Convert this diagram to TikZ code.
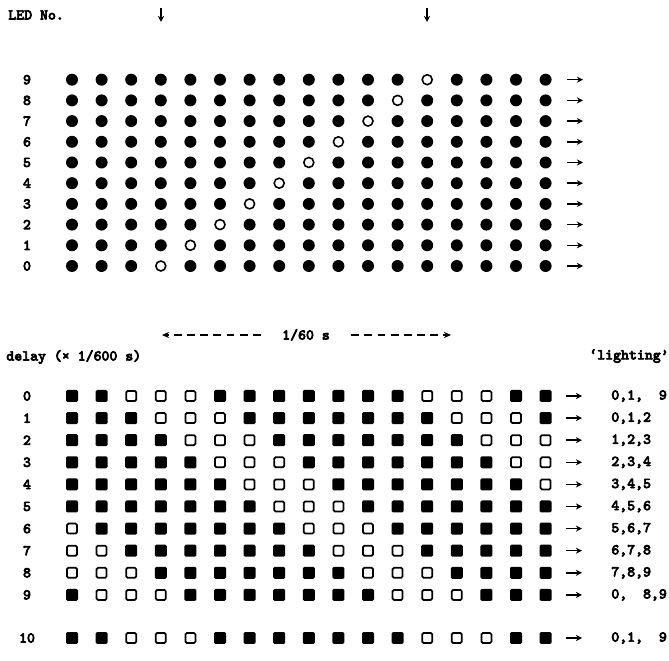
\documentclass[tikz,border=0pt]{standalone}
\usepackage{fontspec}
\setmonofont{Latin Modern Mono}[AutoFakeBold=4.5]
\usetikzlibrary{arrows.meta}

\begin{document}
\begin{tikzpicture}[
  x=0.02cm, y=-0.02cm,
  lbl/.style={font=\fontsize{8.5}{10}\selectfont\ttfamily\bfseries, inner sep=0pt},
  led_on/.style={circle, fill=black, inner sep=0pt, minimum size=0.24cm},
  led_off/.style={circle, draw=black, line width=0.9pt, fill=white, inner sep=0pt, minimum size=0.2cm},
  sq_on/.style={rectangle, fill=black, rounded corners=0.8pt, inner sep=0pt, minimum size=0.24cm},
  sq_off/.style={rectangle, draw=black, line width=1pt, rounded corners=0.8pt, fill=white, inner sep=0pt, minimum size=0.2cm},
  rowarr/.style={-{Stealth[length=3.5pt, width=3.5pt]}, line width=0.9pt},
  downarr/.style={-{Stealth[length=3.5pt, width=3.5pt]}, line width=0.9pt},
  dasharr/.style={-{Stealth[length=4pt, width=3.5pt]}, line width=0.9pt, dash pattern=on 4.5pt off 3pt}
]
\useasboundingbox (0,0) rectangle (669,661);

% Headings
\node[lbl, anchor=west] (ledno) at (8, 15) {LED No.};
\coordinate (da1) at (161, 8);
\coordinate (db1) at (161, 22);
\coordinate (da2) at (427, 8);
\coordinate (db2) at (427, 22);
\draw[downarr] (da1) -- (db1);
\draw[downarr] (da2) -- (db2);

% LED grid (one dark LED per row)
\foreach \r in {0,...,9} {
  \node[lbl] (led\r) at (27, 266-20.7*\r) {\r};
  \foreach \c in {0,...,16} {
    \ifnum\c=\numexpr\r+3\relax
      \node[led_off] (led-\r-\c) at (72+29.6*\c, 266-20.7*\r) {};
    \else
      \node[led_on] (led-\r-\c) at (72+29.6*\c, 266-20.7*\r) {};
    \fi
  }
  \coordinate (ta\r) at (567, 266-20.7*\r);
  \coordinate (tb\r) at (583, 266-20.7*\r);
  \draw[rowarr] (ta\r) -- (tb\r);
}

% Period
\node[lbl, inner xsep=12pt] (period) at (306, 335) {1/60 s};
\coordinate (pl) at (162, 335);
\coordinate (pr) at (451, 335);
\draw[dasharr] (period.west) -- (pl);
\draw[dasharr] (period.east) -- (pr);

\node[lbl, anchor=west] (delay) at (6, 357) {delay (× 1/600 s)};
\node[lbl, anchor=east] (lighting) at (669, 356) {‘lighting’};

% Delay grid (three dark LEDs per row)
\foreach \d/\y/\txt in {0/396/{0,1,\ \ 9}, 1/418.1/{0,1,2}, 2/440.2/{1,2,3}, 3/462.3/{2,3,4},
    4/484.4/{3,4,5}, 5/506.5/{4,5,6}, 6/528.6/{5,6,7}, 7/550.7/{6,7,8},
    8/572.8/{7,8,9}, 9/594.9/{0,\ \ 8,9}, 10/638/{0,1,\ \ 9}} {
  \node[lbl] (dl\d) at (27, \y) {\d};
  \foreach \c in {0,...,16} {
    \pgfmathtruncatemacro\m{mod(\c-2-\d+20,10)}
    \ifnum\m<3
      \node[sq_off] (sq-\d-\c) at (72+29.6*\c, \y) {};
    \else
      \node[sq_on] (sq-\d-\c) at (72+29.6*\c, \y) {};
    \fi
  }
  \coordinate (ba\d) at (566, \y);
  \coordinate (bb\d) at (582, \y);
  \draw[rowarr] (ba\d) -- (bb\d);
  \node[lbl, anchor=west] (lit\d) at (611, \y) {\txt};
}

\end{tikzpicture}
\end{document}
